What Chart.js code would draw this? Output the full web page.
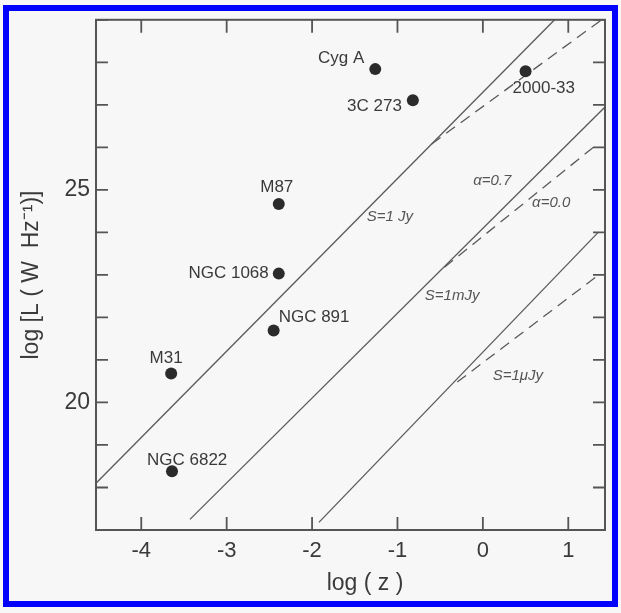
<!DOCTYPE html>
<html>
<head>
<meta charset="utf-8">
<script src="https://cdn.jsdelivr.net/npm/chart.js@4.4.0/dist/chart.umd.min.js"></script>
<style>
  body { margin: 0; background: #f7f7f7; }
  #wrap { position: relative; width: 621px; height: 613px; }
  #frame {
    position: absolute; left: 3px; top: 5px; width: 615px; height: 602px;
    box-sizing: border-box; border: 6px solid #0000ff; pointer-events: none;
  }
  canvas { position: absolute; left: 0; top: 0; }
</style>
</head>
<body>
<div id="wrap">
  <canvas id="chart" width="621" height="613"></canvas>
  <div id="frame"></div>
</div>
<script>
// sources
const names = ['Cyg A', '3C 273', '2000-33', 'M87', 'NGC 1068', 'NGC 891', 'M31', 'NGC 6822'];
const logZ = [-1.26, -0.82, 0.50, -2.39, -2.39, -2.45, -3.65, -3.64];
const logL = [27.84, 27.11, 27.79, 24.67, 23.03, 21.69, 20.68, 18.38];

// flux limit curves (end points)
const jyX = [-4.53, 0.84],  jyY = [18.1, 29.0];
const jyDashX = [-0.6, 1.39], jyDashY = [26.08, 29.0];
const mjyX = [-3.43, 1.43], mjyY = [17.25, 26.95];
const mjyDashX = [-0.45, 1.33], mjyDashY = [23.18, 26.06];
const ujyX = [-1.92, 1.35], ujyY = [17.18, 24.0];
const ujyDashX = [-0.3, 1.33], ujyDashY = [20.48, 22.96];

// curve labels
const curveText = ['S=1 Jy', 'α=0.7', 'α=0.0', 'S=1mJy', 'S=1μJy'];
const curveTextX = [-1.09, 0.11, 0.80, -0.36, 0.41];
const curveTextY = [24.37, 25.21, 24.69, 22.51, 20.63];

// axes
const xTicks = [-4, -3, -2, -1, 0, 1];
const yTicks = [17, 18, 19, 20, 21, 22, 23, 24, 25, 26, 27, 28, 29];
const yLabelled = [20, 25];

// where each source name sits relative to its dot
const labelPos = {
  'Cyg A':    { dx: -11, dy: -11, align: 'right' },
  '3C 273':   { dx: -11, dy: 6,   align: 'right' },
  '2000-33':  { dx: -13, dy: 17,  align: 'left' },
  'M87':      { dx: -2,  dy: -17, align: 'center' },
  'NGC 1068': { dx: -10, dy: 0,   align: 'right' },
  'NGC 891':  { dx: 5,   dy: -13, align: 'left' },
  'M31':      { dx: -5,  dy: -15, align: 'center' },
  'NGC 6822': { dx: -25, dy: -11, align: 'left' }
};

const ink = '#3a3a3a';
const lineInk = '#5a5a5a';

function pts(xs, ys) {
  return xs.map((x, i) => ({ x: x, y: ys[i] }));
}
function curve(xs, ys, dashed) {
  return {
    data: pts(xs, ys), showLine: true, pointRadius: 0,
    borderColor: lineInk, borderWidth: 1.3, borderDash: dashed ? [11, 7] : []
  };
}

const decor = {
  id: 'decor',
  afterDatasetsDraw(chart) {
    const ctx = chart.ctx, a = chart.chartArea;
    const xs = chart.scales.x, ys = chart.scales.y;
    ctx.save();
    // frame
    ctx.strokeStyle = '#555';
    ctx.lineWidth = 2;
    ctx.strokeRect(a.left, a.top, a.right - a.left, a.bottom - a.top);
    // inward ticks
    ctx.lineWidth = 1.8;
    ctx.beginPath();
    xTicks.forEach(v => {
      const px = xs.getPixelForValue(v);
      ctx.moveTo(px, a.bottom); ctx.lineTo(px, a.bottom - 13);
      ctx.moveTo(px, a.top); ctx.lineTo(px, a.top + 13);
    });
    yTicks.forEach(v => {
      const py = ys.getPixelForValue(v);
      ctx.moveTo(a.left, py); ctx.lineTo(a.left + 12, py);
      ctx.moveTo(a.right, py); ctx.lineTo(a.right - 12, py);
    });
    ctx.stroke();

    // source names
    ctx.fillStyle = ink;
    ctx.font = '17px "Liberation Sans", Arial, sans-serif';
    ctx.textBaseline = 'middle';
    names.forEach((n, i) => {
      const p = labelPos[n];
      ctx.textAlign = p.align;
      ctx.fillText(n, xs.getPixelForValue(logZ[i]) + p.dx, ys.getPixelForValue(logL[i]) + p.dy);
    });

    // curve labels
    ctx.font = 'italic 15px "Liberation Sans", Arial, sans-serif';
    ctx.textAlign = 'center';
    ctx.fillStyle = '#555';
    curveText.forEach((t, i) => {
      ctx.fillText(t, xs.getPixelForValue(curveTextX[i]), ys.getPixelForValue(curveTextY[i]));
    });

    // axis titles
    ctx.fillStyle = ink;
    ctx.font = '23px "Liberation Sans", Arial, sans-serif';
    ctx.fillText('log ( z )', 365, 584);
    ctx.translate(32, 275);
    ctx.rotate(-Math.PI / 2);
    ctx.fillText('log [L ( W  Hz⁻¹)]', 0, 0);
    ctx.restore();
  }
};

new Chart(document.getElementById('chart'), {
  type: 'scatter',
  data: {
    datasets: [
      { data: pts(logZ, logL), pointRadius: 6, pointBackgroundColor: '#2b2b2b', pointBorderWidth: 0 },
      curve(jyX, jyY, false),
      curve(jyDashX, jyDashY, true),
      curve(mjyX, mjyY, false),
      curve(mjyDashX, mjyDashY, true),
      curve(ujyX, ujyY, false),
      curve(ujyDashX, ujyDashY, true)
    ]
  },
  options: {
    responsive: false,
    animation: false,
    events: [],
    layout: { padding: { top: 19, right: 16, left: 0, bottom: 0 } },
    plugins: { legend: { display: false }, tooltip: { enabled: false } },
    scales: {
      x: {
        type: 'linear', min: -4.53, max: 1.43,
        grid: { display: false, drawTicks: false },
        border: { display: false },
        afterBuildTicks: s => { s.ticks = xTicks.map(v => ({ value: v })); },
        afterFit: s => { s.height = 83; },
        ticks: {
          padding: 8, color: ink,
          font: { family: '"Liberation Sans", Arial, sans-serif', size: 22 },
          callback: v => (v < 0 ? '-' + Math.abs(v) : String(v))
        }
      },
      y: {
        type: 'linear', min: 17, max: 29,
        grid: { display: false, drawTicks: false },
        border: { display: false },
        afterBuildTicks: s => { s.ticks = yTicks.map(v => ({ value: v })); },
        afterFit: s => { s.width = 96; },
        ticks: {
          padding: 6, color: ink,
          font: { family: '"Liberation Sans", Arial, sans-serif', size: 23 },
          callback: v => (yLabelled.includes(v) ? String(v) : '')
        }
      }
    }
  },
  plugins: [decor]
});
</script>
</body>
</html>
